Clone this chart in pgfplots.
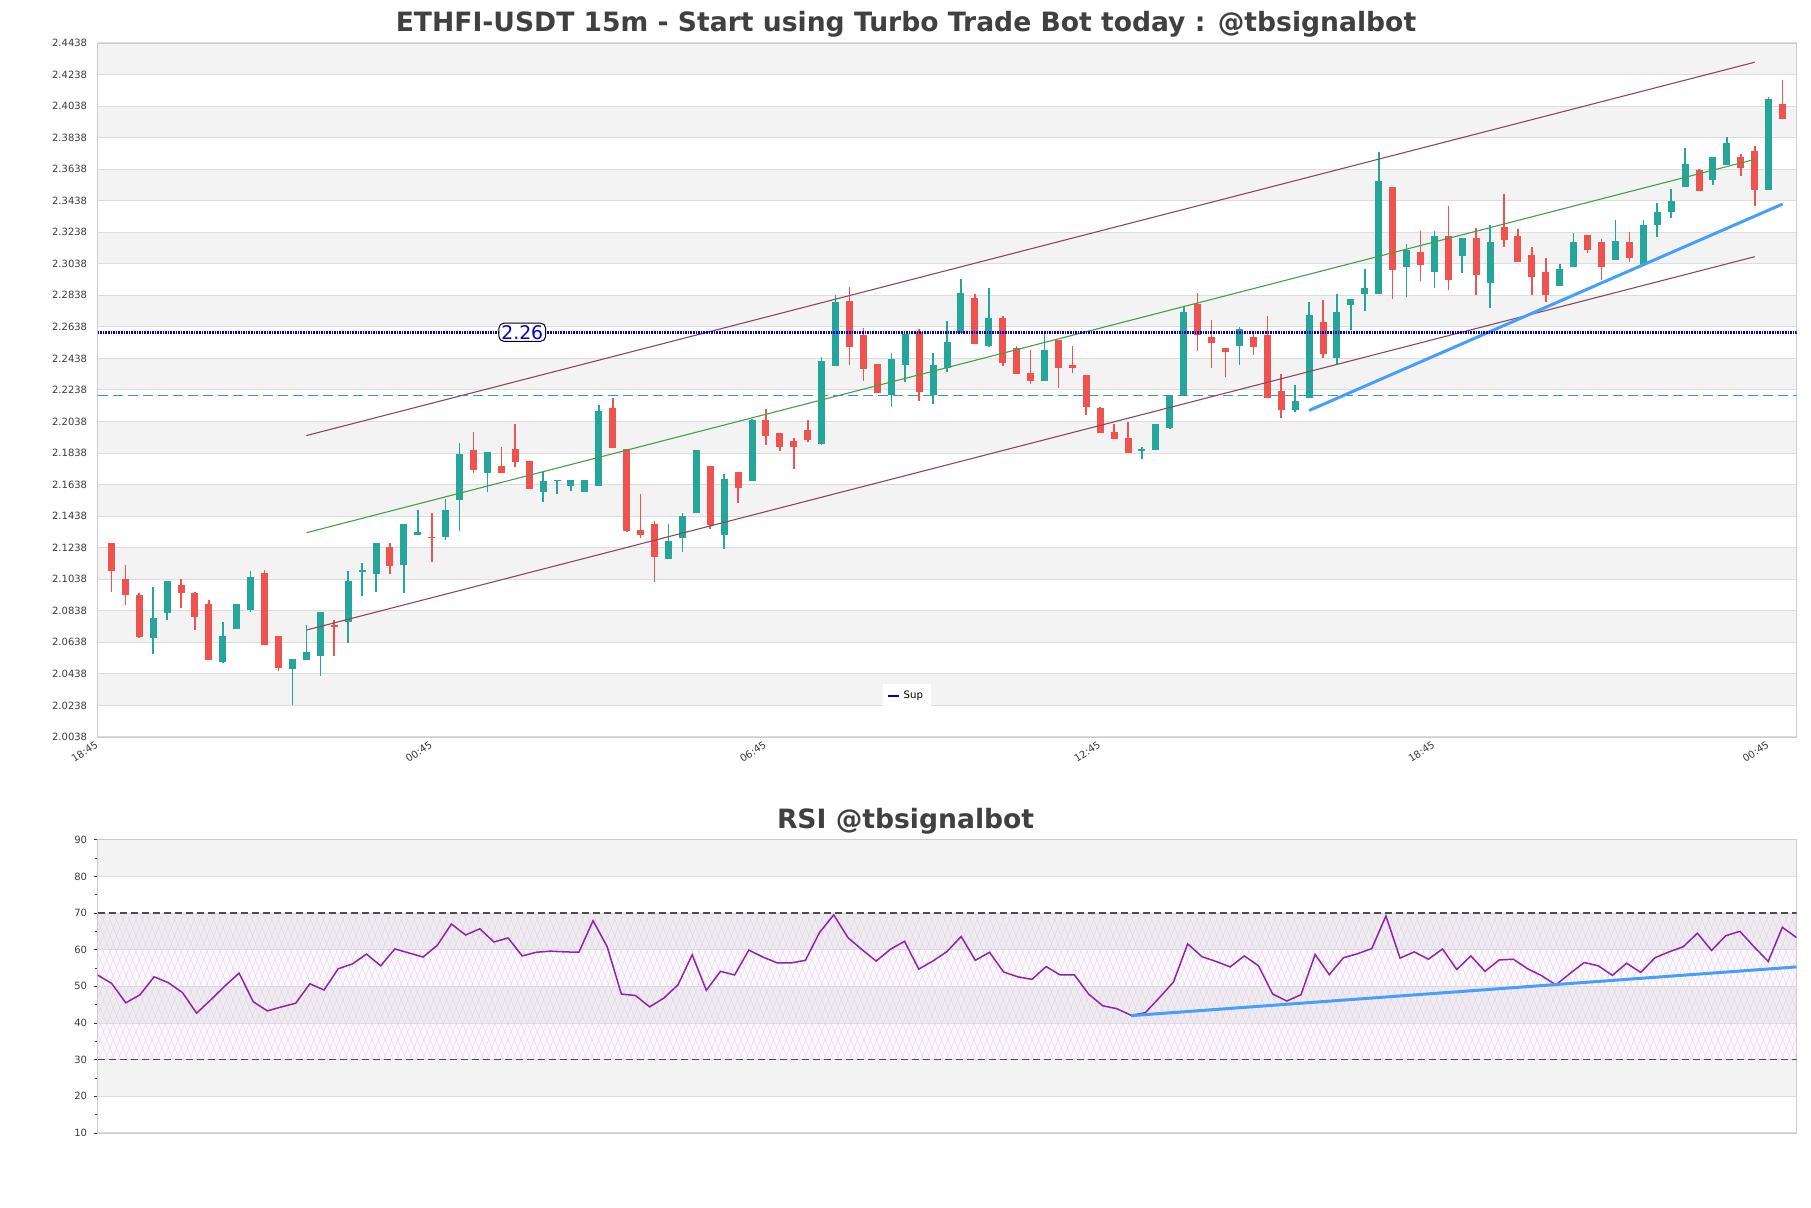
\documentclass[border=0pt]{standalone}
\usepackage{pgfplots}
\pgfplotsset{compat=1.18}
\usepackage{pgfplotstable}
\usepackage{fontspec}
\setmainfont{DejaVu Sans}
\usetikzlibrary{patterns.meta}
\definecolor{upc}{RGB}{38,166,154}
\definecolor{dnc}{RGB}{239,83,80}
\definecolor{bandc}{RGB}{243,243,243}
\definecolor{gridc}{RGB}{221,221,221}
\definecolor{framec}{RGB}{204,204,204}
\definecolor{chanc}{RGB}{140,72,92}
\definecolor{midc}{RGB}{67,160,71}
\definecolor{supc}{RGB}{70,160,250}
\definecolor{dotc}{RGB}{0,0,200}
\definecolor{dashc}{RGB}{50,150,200}
\definecolor{rsic}{RGB}{142,36,170}
\definecolor{titc}{RGB}{64,64,64}
\definecolor{tickc}{RGB}{60,60,60}

\pgfplotstableread{
x o h l c
4 2.0668 2.0991 2.0564 2.0793
5 2.0827 2.1030 2.0777 2.1030
9 2.0514 2.0768 2.0504 2.0678
10 2.0724 2.0883 2.0724 2.0883
11 2.0844 2.1093 2.0831 2.1055
14 2.0466 2.0533 2.0238 2.0533
15 2.0529 2.0749 2.0529 2.0577
16 2.0553 2.0832 2.0427 2.0832
18 2.0764 2.1093 2.0636 2.1030
19 2.1089 2.1144 2.0930 2.1097
20 2.1070 2.1266 2.0955 2.1266
22 2.1126 2.1391 2.0949 2.1391
23 2.1316 2.1474 2.1316 2.1337
25 2.1304 2.1544 2.1287 2.1480
26 2.1540 2.1899 2.1347 2.1830
28 2.1712 2.1842 2.1589 2.1842
32 2.1589 2.1716 2.1526 2.1663
33 2.1663 2.1670 2.1579 2.1670
34 2.1628 2.1666 2.1596 2.1666
35 2.1589 2.1666 2.1589 2.1666
36 2.1628 2.2142 2.1628 2.2104
41 2.1164 2.1391 2.1164 2.1283
42 2.1299 2.1459 2.1210 2.1442
43 2.1457 2.1855 2.1457 2.1855
45 2.1319 2.1704 2.1227 2.1672
47 2.1661 2.2052 2.1661 2.2046
52 2.1894 2.2450 2.1890 2.2420
53 2.2391 2.2842 2.2391 2.2796
57 2.2204 2.2472 2.2132 2.2434
58 2.2398 2.2593 2.2291 2.2593
60 2.2204 2.2472 2.2149 2.2396
61 2.2377 2.2674 2.2349 2.2542
62 2.2602 2.2942 2.2602 2.2853
64 2.2519 2.2885 2.2512 2.2693
68 2.2295 2.2608 2.2295 2.2491
75 2.1853 2.1878 2.1798 2.1861
76 2.1857 2.2021 2.1857 2.2021
77 2.1996 2.2202 2.1990 2.2202
78 2.2202 2.2772 2.2202 2.2731
82 2.2517 2.2638 2.2396 2.2623
86 2.2110 2.2272 2.2097 2.2170
87 2.2189 2.2798 2.2189 2.2712
89 2.2438 2.2849 2.2404 2.2731
90 2.2778 2.2812 2.2617 2.2812
91 2.2846 2.3004 2.2736 2.2882
92 2.2846 2.3750 2.2846 2.3563
94 2.3019 2.3163 2.2827 2.3127
96 2.2987 2.3244 2.2887 2.3213
98 2.3089 2.3202 2.2980 2.3202
100 2.2916 2.3287 2.2757 2.3176
105 2.2898 2.3036 2.2898 2.3004
106 2.3019 2.3232 2.3019 2.3174
109 2.3059 2.3315 2.3059 2.3181
111 2.3034 2.3315 2.3034 2.3283
112 2.3285 2.3423 2.3208 2.3366
113 2.3368 2.3512 2.3329 2.3436
114 2.3527 2.3772 2.3527 2.3670
116 2.3570 2.3714 2.3538 2.3714
117 2.3663 2.3842 2.3663 2.3804
120 2.3506 2.4096 2.3506 2.4083
}\upcandles

\pgfplotstableread{
x o h l c
1 2.1266 2.1270 2.0955 2.1090
2 2.1042 2.1126 2.0877 2.0936
3 2.0940 2.0953 2.0668 2.0672
6 2.1004 2.1040 2.0859 2.0949
7 2.0953 2.0957 2.0717 2.0796
8 2.0883 2.0906 2.0528 2.0528
12 2.1080 2.1099 2.0621 2.0621
13 2.0678 2.0678 2.0459 2.0476
17 2.0749 2.0781 2.0553 2.0738
21 2.1240 2.1270 2.1074 2.1121
24 2.1308 2.1461 2.1145 2.1298
27 2.1855 2.1972 2.1713 2.1728
29 2.1753 2.1874 2.1711 2.1711
30 2.1861 2.2023 2.1749 2.1781
31 2.1791 2.1791 2.1608 2.1608
37 2.2123 2.2186 2.1870 2.1870
38 2.1861 2.1861 2.1336 2.1347
39 2.1353 2.1579 2.1297 2.1316
40 2.1391 2.1406 2.1023 2.1177
44 2.1753 2.1753 2.1357 2.1385
46 2.1716 2.1716 2.1521 2.1617
48 2.2046 2.2116 2.1888 2.1947
49 2.1968 2.1968 2.1851 2.1876
50 2.1913 2.1932 2.1736 2.1876
51 2.1985 2.2046 2.1908 2.1921
54 2.2802 2.2891 2.2398 2.2512
55 2.2587 2.2632 2.2295 2.2372
56 2.2402 2.2402 2.2219 2.2219
59 2.2606 2.2623 2.2168 2.2227
63 2.2821 2.2846 2.2531 2.2531
65 2.2693 2.2710 2.2391 2.2408
66 2.2502 2.2519 2.2340 2.2340
67 2.2344 2.2491 2.2276 2.2293
69 2.2555 2.2555 2.2251 2.2378
70 2.2396 2.2516 2.2344 2.2378
71 2.2331 2.2331 2.2080 2.2131
72 2.2123 2.2133 2.1965 2.1965
73 2.1969 2.2021 2.1925 2.1925
74 2.1931 2.2034 2.1838 2.1838
79 2.2782 2.2853 2.2487 2.2587
80 2.2572 2.2683 2.2377 2.2538
81 2.2504 2.2504 2.2321 2.2480
83 2.2572 2.2591 2.2459 2.2511
84 2.2585 2.2708 2.2189 2.2189
85 2.2230 2.2342 2.2061 2.2110
88 2.2672 2.2810 2.2442 2.2466
93 2.3525 2.3525 2.2815 2.2999
95 2.3112 2.3244 2.2929 2.3032
97 2.3213 2.3402 2.2870 2.2936
99 2.3200 2.3266 2.2840 2.2968
101 2.3270 2.3480 2.3146 2.3191
102 2.3213 2.3261 2.3051 2.3051
103 2.3093 2.3142 2.2838 2.2955
104 2.2985 2.3074 2.2796 2.2838
107 2.3219 2.3219 2.3104 2.3126
108 2.3174 2.3193 2.2936 2.3019
110 2.3174 2.3242 2.3051 2.3076
115 2.3632 2.3642 2.3502 2.3502
118 2.3714 2.3731 2.3593 2.3646
119 2.3753 2.3783 2.3406 2.3506
121 2.4049 2.4204 2.3957 2.3957
}\dncandles

\pgfplotstableread{
x r
1 53.1
2 50.8
3 45.5
4 47.7
5 52.6
6 51.0
7 48.3
8 42.7
9 46.3
10 50.1
11 53.6
12 45.8
13 43.3
14 44.4
15 45.4
16 50.7
17 49.0
18 54.8
19 56.1
20 58.8
21 55.6
22 60.2
23 59.1
24 58.0
25 61.2
26 67.0
27 64.0
28 65.7
29 62.1
30 63.2
31 58.3
32 59.3
33 59.6
34 59.4
35 59.3
36 67.9
37 60.8
38 47.9
39 47.5
40 44.4
41 46.8
42 50.4
43 58.6
44 48.9
45 54.1
46 53.1
47 59.9
48 58.0
49 56.4
50 56.4
51 57.1
52 64.7
53 69.5
54 63.3
55 60.0
56 56.9
57 60.1
58 62.3
59 54.7
60 56.9
61 59.5
62 63.6
63 57.1
64 59.3
65 53.9
66 52.6
67 51.9
68 55.4
69 53.1
70 53.1
71 47.9
72 44.7
73 43.9
74 42.1
75 42.8
76 46.9
77 51.2
78 61.6
79 58.1
80 56.8
81 55.3
82 58.3
83 55.6
84 47.9
85 46.0
86 47.7
87 58.7
88 53.2
89 57.8
90 58.9
91 60.3
92 69.2
93 57.7
94 59.4
95 57.4
96 60.2
97 54.6
98 58.3
99 54.1
100 57.2
101 57.4
102 54.8
103 52.9
104 50.4
105 53.5
106 56.5
107 55.6
108 53.0
109 56.3
110 53.8
111 57.8
112 59.4
113 60.8
114 64.5
115 59.8
116 63.8
117 65.0
118 60.8
119 56.8
120 66.1
121 63.3
}\rsitable

\begin{document}
\begin{tikzpicture}

\node[font=\fontsize{13.3}{15}\selectfont\bfseries, text=titc] at (453pt,592pt) {ETHFI-USDT 15m - Start using Turbo Trade Bot today : @tbsignalbot};
\node[font=\fontsize{13.3}{15}\selectfont\bfseries, text=titc] at (452.8pt,193.5pt) {RSI @tbsignalbot};

\begin{axis}[
  set layers,
  at={(48.75pt,235.5pt)}, anchor=south west,
  width=849.5pt, height=347pt, scale only axis,
  xmin=0, xmax=122, ymin=2.0038, ymax=2.4438,
  axis line style={framec},
  ytick={2.0038,2.0238,2.0438,2.0638,2.0838,2.1038,2.1238,2.1438,2.1638,2.1838,2.2038,2.2238,2.2438,2.2638,2.2838,2.3038,2.3238,2.3438,2.3638,2.3838,2.4038,2.4238,2.4438},
  yticklabels={2.0038,2.0238,2.0438,2.0638,2.0838,2.1038,2.1238,2.1438,2.1638,2.1838,2.2038,2.2238,2.2438,2.2638,2.2838,2.3038,2.3238,2.3438,2.3638,2.3838,2.4038,2.4238,2.4438},
  xtick={0,24,48,72,96,120},
  xticklabels={18:45,00:45,06:45,12:45,18:45,00:45},
  x tick label style={rotate=33, anchor=north east, font=\fontsize{5}{6}\selectfont, text=tickc, inner sep=0pt, xshift=-2pt, yshift=-0.5pt},
  y tick label style={font=\fontsize{5}{6}\selectfont, text=tickc, inner sep=0pt, xshift=-5pt},
  major tick length=0pt,
  ymajorgrids, grid style={gridc, line width=0.5pt},
  legend style={at={(0.4764,0.0588)}, anchor=center, draw=none, fill=white, font=\fontsize{5.1}{6}\selectfont, inner xsep=2pt, inner ysep=1.5pt},
  legend image code/.code={\draw[#1] (0pt,0pt) -- (5.5pt,0pt);},
  legend cell align=left,
]
% background bands
\addplot[on layer=axis background, fill=bandc, draw=none, forget plot] coordinates {(0,2.0238) (122,2.0238) (122,2.0438) (0,2.0438)} -- cycle;
\addplot[on layer=axis background, fill=bandc, draw=none, forget plot] coordinates {(0,2.0638) (122,2.0638) (122,2.0838) (0,2.0838)} -- cycle;
\addplot[on layer=axis background, fill=bandc, draw=none, forget plot] coordinates {(0,2.1038) (122,2.1038) (122,2.1238) (0,2.1238)} -- cycle;
\addplot[on layer=axis background, fill=bandc, draw=none, forget plot] coordinates {(0,2.1438) (122,2.1438) (122,2.1638) (0,2.1638)} -- cycle;
\addplot[on layer=axis background, fill=bandc, draw=none, forget plot] coordinates {(0,2.1838) (122,2.1838) (122,2.2038) (0,2.2038)} -- cycle;
\addplot[on layer=axis background, fill=bandc, draw=none, forget plot] coordinates {(0,2.2238) (122,2.2238) (122,2.2438) (0,2.2438)} -- cycle;
\addplot[on layer=axis background, fill=bandc, draw=none, forget plot] coordinates {(0,2.2638) (122,2.2638) (122,2.2838) (0,2.2838)} -- cycle;
\addplot[on layer=axis background, fill=bandc, draw=none, forget plot] coordinates {(0,2.3038) (122,2.3038) (122,2.3238) (0,2.3238)} -- cycle;
\addplot[on layer=axis background, fill=bandc, draw=none, forget plot] coordinates {(0,2.3438) (122,2.3438) (122,2.3638) (0,2.3638)} -- cycle;
\addplot[on layer=axis background, fill=bandc, draw=none, forget plot] coordinates {(0,2.3838) (122,2.3838) (122,2.4038) (0,2.4038)} -- cycle;
\addplot[on layer=axis background, fill=bandc, draw=none, forget plot] coordinates {(0,2.4238) (122,2.4238) (122,2.4438) (0,2.4438)} -- cycle;

% dashed level
\addplot[dashc, line width=0.6pt, dash pattern=on 5pt off 2.5pt, forget plot] coordinates {(0,2.2202) (122,2.2202)};

% wicks
\addplot[draw=none, forget plot, error bars/.cd, y dir=both, y explicit, error mark=none,
  error bar style={draw=upc, line width=0.8pt, line cap=butt}]
  table[x=x, y expr={(\thisrow{h}+\thisrow{l})/2}, y error expr={(\thisrow{h}-\thisrow{l})/2}] {\upcandles};
\addplot[draw=none, forget plot, error bars/.cd, y dir=both, y explicit, error mark=none,
  error bar style={draw=dnc, line width=0.8pt, line cap=butt}]
  table[x=x, y expr={(\thisrow{h}+\thisrow{l})/2}, y error expr={(\thisrow{h}-\thisrow{l})/2}] {\dncandles};
% bodies
\addplot[draw=none, forget plot, error bars/.cd, y dir=both, y explicit, error mark=none,
  error bar style={draw=upc, line width=3.5pt, line cap=butt}]
  table[x=x, y expr={(\thisrow{o}+\thisrow{c})/2}, y error expr={abs(\thisrow{c}-\thisrow{o})/2}] {\upcandles};
\addplot[draw=none, forget plot, error bars/.cd, y dir=both, y explicit, error mark=none,
  error bar style={draw=dnc, line width=3.5pt, line cap=butt}]
  table[x=x, y expr={(\thisrow{o}+\thisrow{c})/2}, y error expr={abs(\thisrow{c}-\thisrow{o})/2}] {\dncandles};

% channel
\addplot[chanc, line width=0.55pt, forget plot] coordinates {(15,2.1949) (119,2.4316)};
\addplot[chanc, line width=0.55pt, forget plot] coordinates {(15,2.0716) (119,2.3083)};
\addplot[midc, line width=0.55pt, forget plot] coordinates {(15,2.1333) (119,2.3700)};
% support trend
\addplot[supc, line width=1.5pt, forget plot] coordinates {(87,2.2108) (121,2.3417)};

% horizontal support level
\addplot[dotc, line width=1.3pt, dash pattern=on 0.8pt off 0.5pt, forget plot] coordinates {(0,2.2604) (122,2.2604)};
\addlegendimage{dotc, line width=1pt}
\addlegendentry{Sup}

\node[draw=black, rounded corners=2.5pt, fill=white, text=dotc, font=\fontsize{9.4}{10}\selectfont, inner xsep=1.2pt, inner ysep=1pt, line width=0.5pt] at (axis cs:30.5,2.2604) {2.26};
\end{axis}

\begin{axis}[
  set layers,
  at={(48.75pt,37.5pt)}, anchor=south west,
  width=849.5pt, height=146.65pt, scale only axis,
  xmin=1, xmax=121, ymin=10, ymax=90,
  axis line style={framec},
  xtick=\empty,
  ytick={10,20,30,40,50,60,70,80,90},
  minor ytick={15,25,35,45,55,65,75,85},
  y tick label style={font=\fontsize{5}{6}\selectfont, text=tickc, inner sep=0pt, xshift=-3pt},
  /pgf/number format/assume math mode=true,
  major tick length=2pt, minor tick length=1.5pt,
  tick style={tickc, line width=0.3pt},
  ytick pos=left, tick align=outside,
  ymajorgrids, grid style={gridc, line width=0.5pt},
]
\addplot[on layer=axis background, fill=bandc, draw=none, forget plot] coordinates {(1,80) (121,80) (121,90) (1,90)} -- cycle;
\addplot[on layer=axis background, fill=bandc, draw=none, forget plot] coordinates {(1,60) (121,60) (121,70) (1,70)} -- cycle;
\addplot[on layer=axis background, fill=bandc, draw=none, forget plot] coordinates {(1,40) (121,40) (121,50) (1,50)} -- cycle;
\addplot[on layer=axis background, fill=bandc, draw=none, forget plot] coordinates {(1,20) (121,20) (121,30) (1,30)} -- cycle;
% hatched zone
\addplot[on layer=axis background, fill=rsic, fill opacity=0.03, draw=none, forget plot] coordinates {(1,30) (121,30) (121,70) (1,70)} -- cycle;
\addplot[draw=none, pattern={Lines[angle=68, distance=3pt, line width=0.15pt]}, pattern color=rsic!25, forget plot] coordinates {(1,30) (121,30) (121,70) (1,70)} -- cycle;
\addplot[draw=none, pattern={Lines[angle=-68, distance=3pt, line width=0.15pt]}, pattern color=rsic!25, forget plot] coordinates {(1,30) (121,30) (121,70) (1,70)} -- cycle;

\addplot[black!70, line width=0.6pt, dash pattern=on 3.5pt off 2pt, forget plot] coordinates {(1,70) (121,70)};
\addplot[black!70, line width=0.6pt, dash pattern=on 3.5pt off 2pt, forget plot] coordinates {(1,30) (121,30)};

\addplot[rsic, line width=0.75pt, forget plot] table[x=x, y=r] {\rsitable};
\addplot[supc, line width=1.5pt, forget plot] coordinates {(74,42.0) (121,55.3)};
\end{axis}
\pgfresetboundingbox
\path (0,0) rectangle (905.5pt,604pt);
\end{tikzpicture}
\end{document}
